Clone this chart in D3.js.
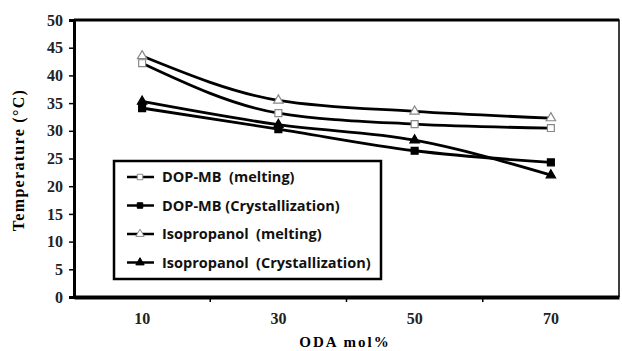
<!DOCTYPE html>
<html>
<head>
<meta charset="utf-8">
<script src="https://cdn.jsdelivr.net/npm/d3@7"></script>
<style>
body { margin: 0; background: #fff; }
.tick text { font-family: "Liberation Serif", "DejaVu Serif", serif; font-weight: bold; font-size: 16px; fill: #222; }
.legend text { font-family: "Open Sans", "Liberation Sans", sans-serif; font-weight: bold; font-size: 14.5px; fill: #111; }
</style>
</head>
<body>
<script>
// categories and series
var categories = ["10", "30", "50", "70"];
var dopMelting = [42.2, 33.2, 31.2, 30.5];
var dopCryst = [34.1, 30.3, 26.4, 24.3];
var isoMelting = [43.5, 35.5, 33.5, 32.3];
var isoCryst = [35.3, 31.1, 28.3, 22.0];
var yTicks = [0, 5, 10, 15, 20, 25, 30, 35, 40, 45, 50];

var series = [
	{ name: "DOP-MB  (melting)", values: dopMelting, shape: "square", fill: "#fff", stroke: "#888" },
	{ name: "DOP-MB (Crystallization)", values: dopCryst, shape: "square", fill: "#000", stroke: "#000" },
	{ name: "Isopropanol  (melting)", values: isoMelting, shape: "triangle", fill: "#fff", stroke: "#888" },
	{ name: "Isopropanol  (Crystallization)", values: isoCryst, shape: "triangle", fill: "#000", stroke: "#000" }
];

var width = 622, height = 351;
var margin = { top: 20, right: 3, bottom: 54, left: 74 };

var svg = d3.select("body").append("svg")
	.attr("width", width)
	.attr("height", height);

var x = d3.scaleBand()
	.domain(categories)
	.range([margin.left, width - margin.right]);

var y = d3.scaleLinear()
	.domain([0, 50])
	.range([height - margin.bottom, margin.top]);

// plot frame (top and right)
svg.append("path")
	.attr("d", "M" + margin.left + "," + margin.top + "H" + (width - margin.right) + "V" + (height - margin.bottom))
	.attr("fill", "none")
	.attr("stroke", "#000")
	.attr("stroke-width", 1.5);
svg.append("line")
	.attr("x1", margin.left).attr("x2", width - margin.right)
	.attr("y1", margin.top).attr("y2", margin.top)
	.attr("stroke", "#000").attr("stroke-width", 3);

// y axis
var yAxis = svg.append("g")
	.attr("transform", "translate(" + margin.left + ",0)")
	.call(d3.axisLeft(y).tickValues(yTicks).tickSize(5).tickPadding(6));
yAxis.select(".domain").attr("stroke-width", 3);
yAxis.selectAll(".tick line").attr("stroke-width", 1.5);

// x axis, ticks sit between categories
var xAxis = svg.append("g")
	.attr("transform", "translate(0," + (height - margin.bottom) + ")")
	.call(d3.axisBottom(x).tickSize(0).tickPadding(16));
xAxis.select(".domain").attr("stroke-width", 4);
xAxis.selectAll(".boundary")
	.data(categories.slice(1))
	.enter().append("line")
	.attr("x1", function(d) { return x(d); })
	.attr("x2", function(d) { return x(d); })
	.attr("y1", 0).attr("y2", 5)
	.attr("stroke", "#000").attr("stroke-width", 1.5);

// axis titles
svg.append("text")
	.attr("transform", "translate(24,160) rotate(-90)")
	.attr("text-anchor", "middle")
	.style("font-family", "Liberation Serif, serif")
	.style("font-weight", "bold")
	.style("font-size", "16px")
	.style("letter-spacing", "1.3px")
	.text("Temperature (°C)");

svg.append("text")
	.attr("x", 345)
	.attr("y", 347)
	.attr("text-anchor", "middle")
	.style("font-family", "Liberation Serif, serif")
	.style("font-weight", "bold")
	.style("font-size", "15px")
	.style("letter-spacing", "2px")
	.text("ODA mol%");

var line = d3.line()
	.x(function(d, i) { return x(categories[i]) + x.bandwidth() / 2; })
	.y(function(d) { return y(d); })
	.curve(d3.curveMonotoneX);

var symbolFor = function(s, size) {
	return d3.symbol().type(s.shape == "square" ? d3.symbolSquare : d3.symbolTriangle).size(size)();
};

series.forEach(function(s) {
	svg.append("path")
		.attr("d", line(s.values))
		.attr("fill", "none")
		.attr("stroke", "#000")
		.attr("stroke-width", 2.8);

	svg.selectAll(null)
		.data(s.values)
		.enter().append("path")
		.attr("transform", function(d, i) {
			return "translate(" + (x(categories[i]) + x.bandwidth() / 2) + "," + y(d) + ")";
		})
		.attr("d", symbolFor(s, s.shape == "square" ? 48 : 38))
		.attr("fill", s.fill)
		.attr("stroke", s.stroke)
		.attr("stroke-width", 1.2);
});

// legend
var legend = svg.append("g").attr("class", "legend");
legend.append("rect")
	.attr("x", 114).attr("y", 161)
	.attr("width", 267).attr("height", 118)
	.attr("fill", "#fff")
	.attr("stroke", "#000")
	.attr("stroke-width", 2.5);

var entry = legend.selectAll(".entry")
	.data(series)
	.enter().append("g")
	.attr("class", "entry")
	.attr("transform", function(d, i) { return "translate(0," + (177 + i * 28.5) + ")"; });

entry.append("line")
	.attr("x1", 127).attr("x2", 154)
	.attr("stroke", "#000").attr("stroke-width", 2.5);
entry.append("path")
	.attr("transform", "translate(140,0)")
	.attr("d", function(d) { return symbolFor(d, 30); })
	.attr("fill", function(d) { return d.fill; })
	.attr("stroke", function(d) { return d.stroke; })
	.attr("stroke-width", 1);
entry.append("text")
	.attr("x", 162)
	.attr("dy", "0.35em")
	.attr("xml:space", "preserve")
	.style("white-space", "pre")
	.text(function(d) { return d.name; });
</script>
</body>
</html>
